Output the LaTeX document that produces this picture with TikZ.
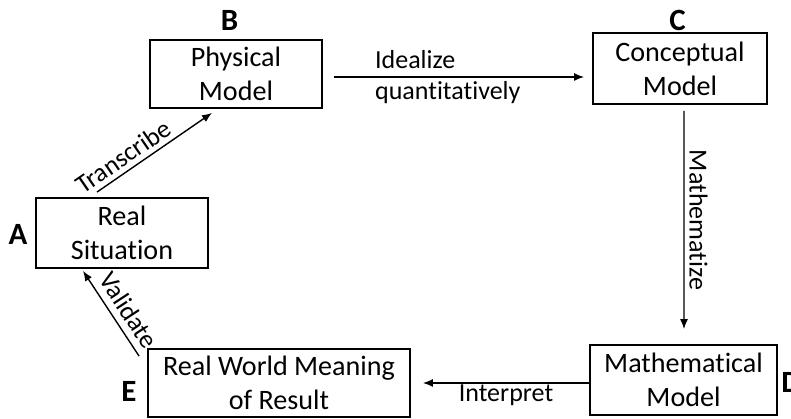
\documentclass[tikz,border=0pt]{standalone}
\usepackage{fontspec}
\setmainfont{Carlito}[Ligatures={NoCommon,NoContextual}]
\usetikzlibrary{arrows.meta}

\begin{document}
\begin{tikzpicture}[x=0.025cm,y=0.025cm,
  box/.style={draw, rectangle, line width=1.3pt, align=center, inner sep=0pt, font=\fontsize{20}{24}\selectfont},
  lbl/.style={font=\fontsize{18.5}{22}\selectfont},
  tag/.style={font=\fontsize{22}{24}\selectfont\bfseries},
  arr/.style={-{Latex[length=0.25cm,width=0.2cm]}, line width=1pt}]
\useasboundingbox (0,0) rectangle (791,419);
\node[box, minimum width=4.3cm, minimum height=1.75cm] (a) at (122,186) {Real\\Situation};
\node[box, minimum width=4.3cm, minimum height=1.7cm] (b) at (236,345) {Physical\\Model};
\node[box, minimum width=4.35cm, minimum height=1.775cm] (c) at (680,350.5) {Conceptual\\Model};
\node[box, minimum width=4.675cm, minimum height=1.75cm] (d) at (683.5,39) {Mathematical\\Model};
\node[box, minimum width=6.55cm, minimum height=1.7cm] (e) at (279,36) {Real World Meaning\\of Result};

\node[tag] (ta) at (18,184.5) {A};
\node[tag] (tb) at (229.5,398.5) {B};
\node[tag] (tc) at (677.5,399) {C};
\node[tag, anchor=west, inner xsep=0pt] (td) at (781,37) {D};
\node[tag] (te) at (129,28) {E};

\draw[arr] ([shift={(-25,5)}]a.north) -- node[lbl, pos=0.3, sloped, above] {Transcribe} ([shift={(-24,-4)}]b.south);
\draw[arr] ([shift={(11,-3)}]b.east) -- node[lbl, align=left, xshift=-0.28cm] {Idealize\\quantitatively} ([shift={(-8,-8.5)}]c.west);
\draw[arr] ([shift={(4,-6)}]c.south) -- node[lbl, midway, anchor=south, rotate=-90] {Mathematize} ([shift={(0.5,15)}]d.north);
\draw[arr] ([shift={(0,-3)}]d.west) -- node[lbl, midway, below, inner sep=1pt] {Interpret} ([shift={(12,0)}]e.east);
\draw[arr] ([shift={(-8,-8)}]e.north west) -- node[lbl, pos=0.43, sloped, above=1.5pt] {Validate} ([shift={(-39,-2)}]a.south);
\end{tikzpicture}
\end{document}
